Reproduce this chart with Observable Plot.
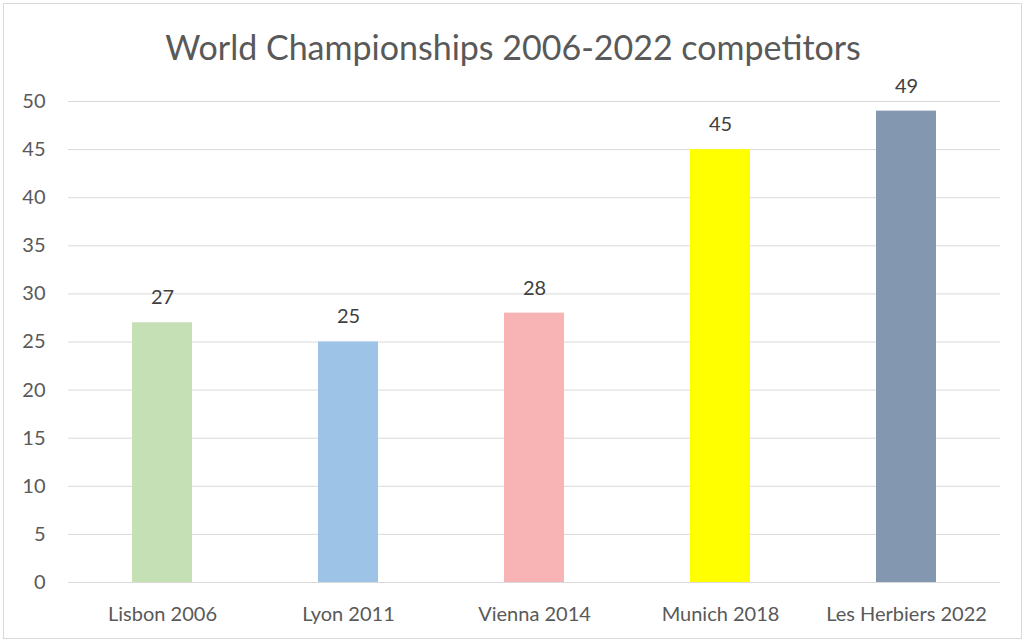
<!DOCTYPE html>
<html><head><meta charset="utf-8">
<script src="https://cdn.jsdelivr.net/npm/d3@7"></script>
<script src="https://cdn.jsdelivr.net/npm/@observablehq/plot@0.6"></script>
<style>
html,body{margin:0;padding:0;background:#fff;}
#wrap{position:relative;width:1026px;height:644px;overflow:hidden;font-family:Lato,"Open Sans",sans-serif;}
#frame{position:absolute;left:3px;top:3px;width:1019px;height:636px;border:1px solid #D9D9D9;box-sizing:border-box;pointer-events:none;}
#title{position:absolute;left:0;top:27px;width:1026px;text-align:center;font-size:34px;color:#595959;line-height:40px;}
#chart{position:absolute;left:0;top:60px;}
</style></head>
<body><div id="wrap"><div id="title">World Championships 2006-2022 competitors</div><div id="chart"></div><div id="frame"></div></div>
<script>
const venues = ["Lisbon 2006","Lyon 2011","Vienna 2014","Munich 2018","Les Herbiers 2022"];
const competitors = [27,25,28,45,49];
const barColors = ["#C5E0B4","#9DC3E6","#F8B4B4","#FFFF00","#8497B0"];
const yTicks = [0,5,10,15,20,25,30,35,40,45,50];

const data = venues.map((v,i)=>({venue:v, value:competitors[i]}));

const plot = Plot.plot({
  width:1026, height:584,
  marginTop:41, marginBottom:62, marginLeft:68, marginRight:26,
  style:{fontFamily:"Lato, 'Open Sans', sans-serif", fontSize:"20px", color:"#595959", background:"transparent", overflow:"visible"},
  x:{domain:venues, paddingInner:0.68, paddingOuter:0.34, label:null},
  y:{domain:[0,50], label:null},
  color:{domain:venues, range:barColors},
  marks:[
    Plot.gridY(yTicks,{stroke:"#D9D9D9", strokeOpacity:1, strokeWidth:1}),
    Plot.axisY(yTicks,{tickSize:0, tickPadding:23, label:null, fontSize:20}),
    Plot.axisX({tickSize:0, tickPadding:24, label:null, fontSize:20}),
    Plot.barY(data,{x:"venue", y:"value", fill:"venue"}),
    Plot.text(data,{x:"venue", y:"value", text:d=>String(d.value), dy:-25, fill:"#404040", fontSize:20})
  ]
});
document.getElementById("chart").appendChild(plot);
</script></body></html>
